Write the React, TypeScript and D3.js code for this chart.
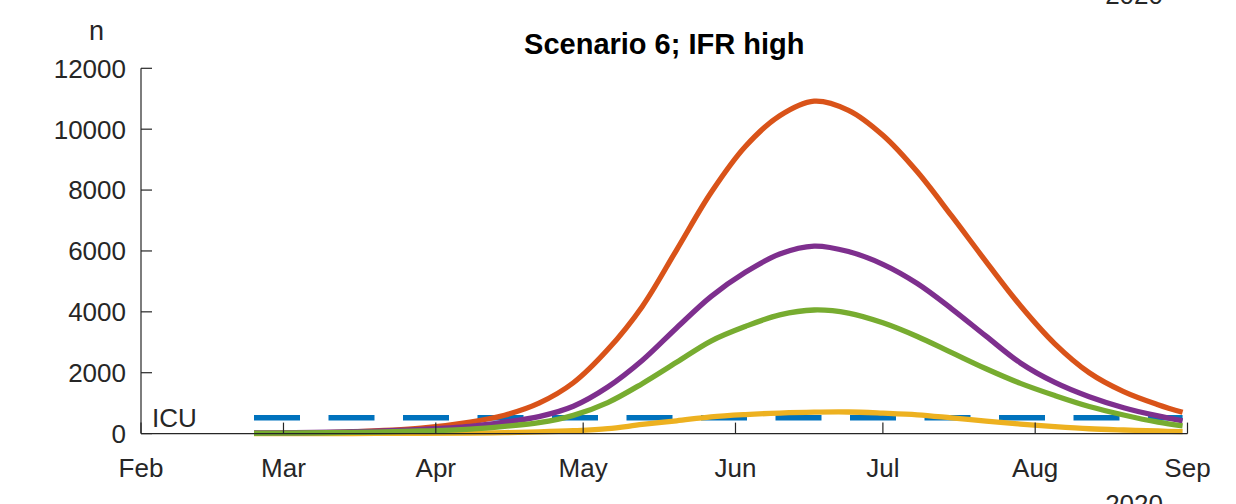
import React from 'react';
import * as d3 from 'd3';

// sample dates (2020) and series
const dates = [
  '2020-02-24', '2020-03-01', '2020-03-15', '2020-03-29', '2020-04-08', '2020-04-15',
  '2020-04-22', '2020-04-29', '2020-05-06', '2020-05-13', '2020-05-20', '2020-05-27',
  '2020-06-03', '2020-06-10', '2020-06-17', '2020-06-24', '2020-07-01', '2020-07-08',
  '2020-07-15', '2020-07-22', '2020-07-29', '2020-08-05', '2020-08-12', '2020-08-19',
  '2020-08-26', '2020-08-31'
];

const orange = [10, 15, 60, 180, 380, 605, 1000, 1670, 2760, 4170, 6030, 7910, 9430, 10440, 10920, 10620, 9800, 8600, 7150, 5650, 4200, 2950, 2000, 1380, 950, 700];
const purple = [20, 25, 60, 140, 240, 380, 560, 900, 1530, 2400, 3470, 4500, 5300, 5900, 6160, 5980, 5560, 4930, 4100, 3200, 2320, 1680, 1210, 850, 580, 420];
const green = [12, 16, 37, 85, 150, 240, 357, 600, 1020, 1640, 2340, 3040, 3520, 3900, 4060, 3960, 3640, 3190, 2660, 2130, 1650, 1250, 890, 610, 375, 255];
const yellow = [1, 2, 3, 9, 18, 32, 55, 93, 160, 300, 420, 550, 625, 675, 705, 710, 670, 615, 516, 412, 314, 230, 160, 118, 85, 62];

const icuLevel = 520;
const icuRange = ['2020-02-24', '2020-08-31'];

const monthTicks = ['2020-02-01', '2020-03-01', '2020-04-01', '2020-05-01', '2020-06-01', '2020-07-01', '2020-08-01', '2020-09-01'];
const yTicks = [0, 2000, 4000, 6000, 8000, 10000, 12000];

const title = 'Scenario 6; IFR high';

const parse = s => new Date(s + 'T00:00:00Z');

const App = () => {
  const width = 1236;
  const height = 504;
  const left = 141;
  const right = 1187.5;
  const top = 68.3;
  const bottom = 433.6;

  const x = d3
    .scaleUtc()
    .domain([parse('2020-02-01'), parse('2020-09-01')])
    .range([left, right]);
  const y = d3.scaleLinear().domain([0, 12000]).range([bottom, top]);

  const line = d3
    .line()
    .x(d => x(d[0]))
    .y(d => y(d[1]))
    .curve(d3.curveCatmullRom.alpha(0.5));

  // matlab plot order: orange, yellow, purple, green
  const series = [
    { vals: orange, color: '#D95319' },
    { vals: yellow, color: '#EDB120' },
    { vals: purple, color: '#7E2F8E' },
    { vals: green, color: '#77AC30' }
  ];

  const textColor = '#262626';
  const font = '"Liberation Sans", Arial, Helvetica, sans-serif';

  return (
    <svg
      width={width}
      height={height}
      style={{ position: 'absolute', left: 0, top: 0, background: '#fff' }}
      fontFamily={font}
    >
      <rect x={0} y={0} width={width} height={height} fill="#fff" />

      <text x={1163} y={4} textAnchor="end" fontSize={26} fill={textColor}>
        2020
      </text>

      <text x={(left + right) / 2} y={53.5} textAnchor="middle" fontSize={29} fontWeight="bold" fill="#000">
        {title}
      </text>

      <text x={96.5} y={40} textAnchor="middle" fontSize={27} fill={textColor}>
        n
      </text>

      {/* ICU line */}
      <path
        d={
          line([
            [parse(icuRange[0]), icuLevel],
            [parse(icuRange[1]), icuLevel]
          ]) || ''
        }
        fill="none"
        stroke="#0072BD"
        strokeWidth={5.3}
        strokeDasharray="46 28.5"
      />

      {series.map((s, i) => (
        <path
          key={i}
          d={line(dates.map((d, j) => [parse(d), s.vals[j]])) || ''}
          fill="none"
          stroke={s.color}
          strokeWidth={5.3}
          strokeLinejoin="round"
        />
      ))}

      <text x={152} y={426.7} fontSize={26} fill={textColor}>
        ICU
      </text>

      {/* axes */}
      <g stroke={textColor} strokeWidth={1.2} fill="none">
        <line x1={left} x2={left} y1={top} y2={bottom} />
        <line x1={left} x2={right} y1={bottom} y2={bottom} />
        {yTicks.map(t => (
          <line key={t} x1={left} x2={left + 11} y1={y(t)} y2={y(t)} />
        ))}
        {monthTicks.map(t => (
          <line key={t} x1={x(parse(t))} x2={x(parse(t))} y1={bottom} y2={bottom - 11} />
        ))}
      </g>

      {yTicks.map(t => (
        <text key={t} x={126} y={y(t)} dy="0.36em" textAnchor="end" fontSize={26} fill={textColor}>
          {t}
        </text>
      ))}

      {monthTicks.map(t => (
        <text key={t} x={x(parse(t))} y={476.7} textAnchor="middle" fontSize={26} fill={textColor}>
          {d3.utcFormat('%b')(parse(t))}
        </text>
      ))}

      <text x={1163} y={513} textAnchor="end" fontSize={26} fill={textColor}>
        2020
      </text>
    </svg>
  );
};

export default App;
